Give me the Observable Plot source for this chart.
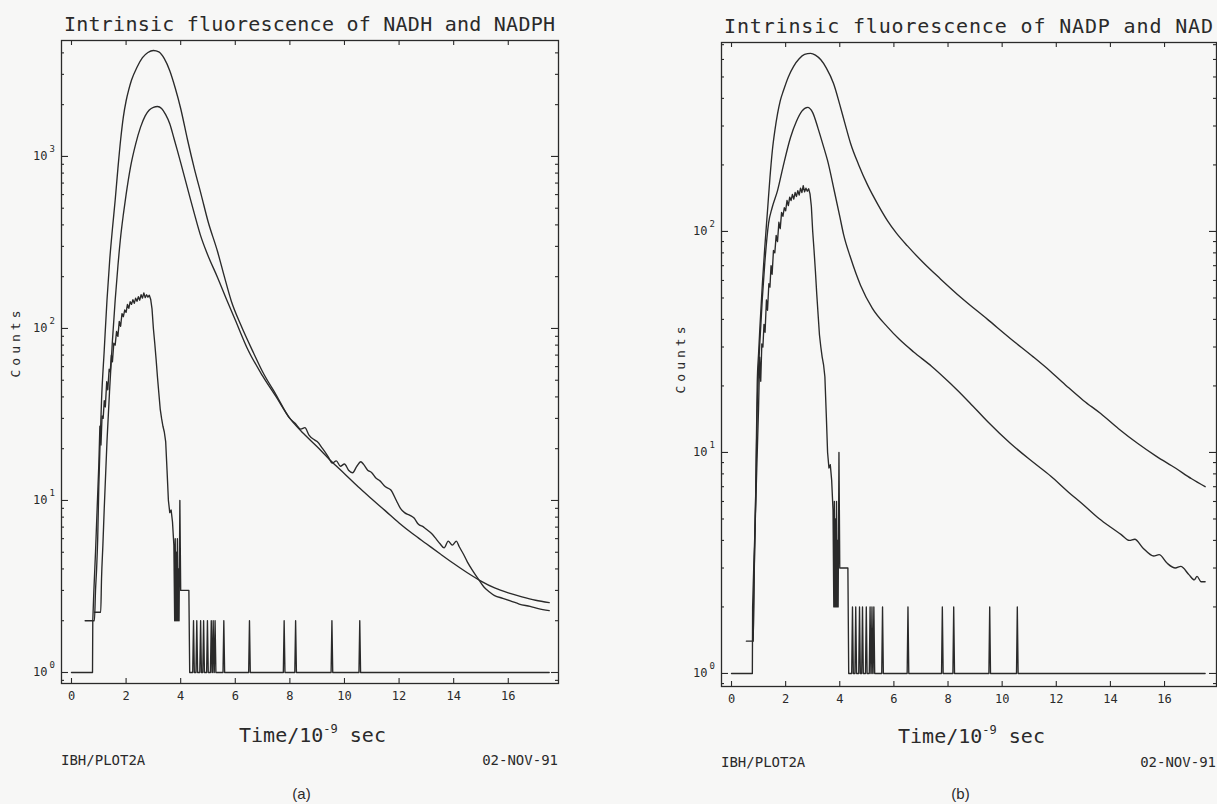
<!DOCTYPE html>
<html><head><meta charset="utf-8">
<script src="https://cdn.jsdelivr.net/npm/d3@7"></script>
<script src="https://cdn.jsdelivr.net/npm/@observablehq/plot@0.6"></script>
<style>
html,body{margin:0;padding:0;background:#f7f7f6;}
#page{position:relative;width:1217px;height:804px;overflow:hidden;}
.panel{position:absolute;top:0;}
#overlay{position:absolute;left:0;top:0;pointer-events:none;}
</style></head><body><div id="page"></div>
<script>
// ---------- data ----------
const xTicks = [0, 2, 4, 6, 8, 10, 12, 14, 16];
const yMajorA = [1, 10, 100, 1000];
const yMajorB = [1, 10, 100];

// instrument response (same lamp profile in both panels)
const irf = [[0,1],[0.77,1],[0.78,2],[0.82,3],[0.88,5],[0.94,9],[1.0,16],[1.04,27],[1.08,21],[1.12,31],[1.16,30],[1.2,38],[1.24,35],[1.29,49],[1.33,44],[1.38,58],[1.42,56],[1.46,70],[1.5,64],[1.55,82],[1.6,80],[1.65,96],[1.7,90],[1.75,110],[1.8,103],[1.85,122],[1.9,117],[1.95,128],[2.0,124],[2.05,138],[2.1,131],[2.15,143],[2.2,138],[2.25,147],[2.3,140],[2.35,150],[2.4,144],[2.45,153],[2.5,146],[2.55,157],[2.6,150],[2.65,161],[2.7,151],[2.75,157],[2.8,152],[2.85,156],[2.9,148],[2.95,130],[3.0,100],[3.05,82],[3.1,66],[3.15,52],[3.2,42],[3.25,34],[3.3,30],[3.35,27],[3.4,25],[3.45,22],[3.5,15],[3.55,10],[3.6,8.5],[3.65,8.8],[3.7,7.5],[3.75,5.5],[3.78,2],[3.8,6],[3.82,2],[3.84,5],[3.86,2],[3.88,6],[3.9,2],[3.92,4],[3.94,2],[3.97,10],[4.0,3],[4.3,3],[4.33,1],[4.44,1],[4.47,2],[4.5,1],[4.56,1],[4.59,2],[4.62,1],[4.7,1],[4.73,2],[4.76,1],[4.81,1],[4.84,2],[4.87,1],[4.95,1],[4.98,2],[5.01,1],[5.09,1],[5.12,2],[5.15,1],[5.16,1],[5.19,2],[5.22,1],[5.23,1],[5.26,2],[5.29,1],[5.55,1],[5.58,2],[5.61,1],[6.49,1],[6.52,2],[6.55,1],[7.76,1],[7.79,2],[7.82,1],[8.18,1],[8.21,2],[8.24,1],[9.51,1],[9.54,2],[9.57,1],[10.53,1],[10.56,2],[10.59,1],[17.5,1]];

// panel (a): NADH / NADPH
const nadhUpper = [[0.5,2],[0.84,2],[0.88,3],[0.92,4],[0.96,6],[1.0,12],[1.05,22],[1.1,38],[1.2,75],[1.3,146],[1.4,250],[1.5,380],[1.6,556],[1.7,850],[1.8,1250],[1.9,1700],[2.0,2100],[2.1,2450],[2.2,2780],[2.4,3300],[2.6,3750],[2.8,4020],[3.0,4130],[3.2,4050],[3.4,3700],[3.6,3150],[3.8,2500],[4.0,1900],[4.25,1250],[4.5,850],[4.75,600],[5.0,420],[5.35,280],[5.6,200],[5.85,145],[6.2,105],[6.67,72],[7.0,56],[7.5,41],[8.0,30],[8.2,28],[8.4,26],[8.55,26.5],[8.7,24],[8.9,22.5],[9.0,22],[9.2,20],[9.4,18],[9.55,16.5],[9.7,17],[9.85,15.8],[10.0,16.3],[10.15,15],[10.3,14.5],[10.45,15.8],[10.6,16.8],[10.7,16.2],[10.85,15],[11.0,14.5],[11.15,13.5],[11.3,13],[11.5,12],[11.7,11.5],[11.9,10],[12.05,9],[12.2,8.5],[12.4,8.2],[12.55,7.9],[12.7,7.3],[12.9,7],[13.0,6.8],[13.2,6.4],[13.35,6],[13.5,5.6],[13.65,5.3],[13.8,5.8],[13.95,5.5],[14.1,5.8],[14.2,5.4],[14.35,4.9],[14.5,4.4],[14.7,3.9],[14.9,3.5],[15.1,3.15],[15.3,2.95],[15.5,2.8],[15.8,2.7],[16.1,2.6],[16.4,2.5],[16.8,2.42],[17.1,2.35],[17.5,2.29]];
const nadhLower = [[0.84,2.24],[1.07,2.24],[1.1,3.5],[1.15,5.5],[1.2,9],[1.3,22],[1.4,45],[1.5,85],[1.6,146],[1.7,230],[1.8,340],[1.9,460],[2.0,600],[2.16,865],[2.35,1180],[2.53,1480],[2.7,1720],[2.85,1860],[3.0,1930],[3.15,1950],[3.3,1900],[3.45,1750],[3.6,1550],[3.75,1280],[3.88,1080],[4.0,920],[4.3,610],[4.5,465],[4.72,350],[4.98,270],[5.35,198],[5.7,145],[6.0,112],[6.45,76],[7.0,53],[7.5,40],[8.0,30],[8.5,24.5],[9.0,20.5],[9.5,17],[10.0,14.3],[10.5,12],[11.0,10.2],[11.5,8.7],[12.0,7.4],[12.5,6.4],[13.0,5.6],[13.5,4.9],[14.0,4.3],[14.5,3.8],[15.0,3.4],[15.5,3.1],[16.0,2.9],[16.5,2.75],[17.0,2.63],[17.5,2.55]];

// panel (b): NADP / NAD
const nadpUpper = [[0.55,1.4],[0.8,1.4],[0.82,2],[0.86,4],[0.89,6.1],[0.95,20.5],[1.0,28],[1.05,37],[1.14,58],[1.23,85],[1.33,124],[1.42,175],[1.51,233],[1.6,285],[1.7,340],[1.8,390],[1.92,434],[2.1,500],[2.3,560],[2.5,605],[2.7,632],[2.92,639],[3.1,628],[3.3,598],[3.5,550],[3.77,467],[4.0,375],[4.2,305],[4.4,250],[4.7,200],[5.03,162],[5.4,133],[5.76,112],[6.1,98],[6.5,86],[7.1,72],[7.72,61],[8.5,50],[9.46,40],[10.3,32.8],[11.16,27],[11.8,23.2],[12.4,19.9],[13.0,17.2],[13.64,15],[14.3,12.8],[15.0,11],[15.7,9.6],[16.4,8.5],[17.0,7.6],[17.5,7.0]];
const nadpLower = [[0.8,1.4],[0.84,3],[0.9,7],[0.95,16],[1.0,24],[1.05,32],[1.14,50],[1.23,72],[1.37,109],[1.5,128],[1.7,153],[1.9,195],[2.18,266],[2.4,315],[2.6,350],[2.81,364],[3.0,345],[3.2,292],[3.4,242],[3.55,209],[3.8,152],[4.0,117],[4.14,97],[4.4,76],[4.77,57],[5.2,45],[5.76,37],[6.2,32.5],[6.73,28.5],[7.4,24.5],[8.09,20.5],[8.8,16.8],[9.46,13.8],[10.3,11],[11.16,9],[11.8,7.8],[12.4,6.7],[13.0,5.8],[13.6,5.0],[14.0,4.6],[14.4,4.25],[14.7,4.0],[14.9,4.05],[15.2,3.7],[15.6,3.4],[15.8,3.45],[16.1,3.15],[16.4,3.0],[16.6,3.05],[16.9,2.8],[17.1,2.65],[17.2,2.75],[17.35,2.6],[17.5,2.6]];

const titles = ["Intrinsic fluorescence of NADH and NADPH", "Intrinsic fluorescence of NADP and NAD"];
const footLeft = "IBH/PLOT2A", footRight = "02-NOV-91";
const panelTags = ["(a)", "(b)"];

// ---------- drawing ----------
const INK = "#2a2a2a";
function minorTicks(domain) {
  const out = [];
  for (let k = Math.floor(Math.log10(domain[0])); k <= Math.ceil(Math.log10(domain[1])); k++)
    for (let m = 2; m <= 9; m++) { const v = m * 10 ** k; if (v > domain[0] && v < domain[1]) out.push(v); }
  return out;
}
function panel(o) {
  const innerW = o.width - o.ml - o.mr, innerH = o.height - o.mt - o.mb;
  const minor = minorTicks(o.yDomain);
  const tick = {stroke: INK, strokeWidth: 1.1};
  return Plot.plot({
    width: o.width, height: o.height,
    marginLeft: o.ml, marginRight: o.mr, marginTop: o.mt, marginBottom: o.mb,
    style: {background: "transparent", fontFamily: "DejaVu Sans Mono", color: INK, overflow: "visible"},
    x: {domain: o.xDomain, axis: null},
    y: {type: "log", domain: o.yDomain, axis: null},
    marks: [
      Plot.frame({stroke: INK, strokeWidth: 1.3}),
      Plot.tickX(xTicks, {x: d => d, insetTop: innerH - 5, ...tick}),
      Plot.tickX(xTicks, {x: d => d, insetBottom: innerH - 5, ...tick}),
      Plot.tickY(o.yMajor, {y: d => d, insetRight: innerW - 7, ...tick}),
      Plot.tickY(o.yMajor, {y: d => d, insetLeft: innerW - 7, ...tick}),
      Plot.tickY(minor, {y: d => d, insetRight: innerW - 3, ...tick}),
      Plot.tickY(minor, {y: d => d, insetLeft: innerW - 3, ...tick}),
      Plot.text(xTicks, {x: d => d, frameAnchor: "bottom", dy: 16, text: d => String(d), fontSize: 12, fill: INK}),
      Plot.text(o.yMajor, {y: d => d, frameAnchor: "left", dx: -14, textAnchor: "end", text: () => "10", fontSize: 12, fill: INK}),
      Plot.text(o.yMajor, {y: d => d, frameAnchor: "left", dx: -12, dy: -7, textAnchor: "start", text: d => String(Math.round(Math.log10(d))), fontSize: 9, fill: INK}),
      Plot.line(o.irf, {x: d => d[0], y: d => d[1], stroke: INK, strokeWidth: 1.35, strokeLinejoin: "round"}),
      ...o.series.map(s => Plot.line(s, {x: d => d[0], y: d => d[1], stroke: INK, strokeWidth: 1.35, curve: "monotone-x"}))
    ]
  });
}

const page = document.getElementById("page");
const left = panel({width: 600, height: 720, ml: 61, mr: 42, mt: 40, mb: 37,
  xDomain: [-0.366, 17.84], yDomain: [0.863, 4720], yMajor: yMajorA,
  irf, series: [nadhLower, nadhUpper]});
const right = panel({width: 617, height: 720, ml: 121, mr: 1, mt: 42, mb: 34,
  xDomain: [-0.37, 17.92], yDomain: [0.873, 716], yMajor: yMajorB,
  irf, series: [nadpLower, nadpUpper]});
const wl = document.createElement("div"); wl.className = "panel"; wl.style.left = "0px"; wl.appendChild(left);
const wr = document.createElement("div"); wr.className = "panel"; wr.style.left = "600px"; wr.appendChild(right);
page.appendChild(wl); page.appendChild(wr);

// text annotations
const svg = d3.select(page).append("svg").attr("id", "overlay").attr("width", 1217).attr("height", 804)
  .style("font-family", "'DejaVu Sans Mono', monospace").style("fill", INK);
const frames = [{l: 61, r: 558, titleY: 31, timeY: 742, footY: 765, countsX: 20, countsY: 342},
                {l: 721, r: 1216, titleY: 33, timeY: 743, footY: 767, countsX: 685, countsY: 358}];
frames.forEach((f, i) => {
  const cx = (f.l + f.r) / 2;
  svg.append("text").attr("x", cx).attr("y", f.titleY).attr("text-anchor", "middle")
    .attr("font-size", 20).attr("textLength", f.r - f.l - 6).attr("lengthAdjust", "spacing").text(titles[i]);
  svg.append("text").attr("transform", `translate(${f.countsX},${f.countsY}) rotate(-90)`)
    .attr("text-anchor", "middle").attr("font-size", 13).style("letter-spacing", "4px").text("Counts");
  const t = svg.append("text").attr("x", cx + 3).attr("y", f.timeY).attr("text-anchor", "middle").attr("font-size", 20);
  t.append("tspan").text("Time/10");
  t.append("tspan").attr("dy", -9).attr("font-size", 12).text("-9");
  t.append("tspan").attr("dy", 9).text(" sec");
  svg.append("text").attr("x", f.l).attr("y", f.footY).attr("font-size", 14).text(footLeft);
  svg.append("text").attr("x", f.r).attr("y", f.footY).attr("text-anchor", "end").attr("font-size", 14).text(footRight);
  svg.append("text").attr("x", cx - 8).attr("y", 799).attr("text-anchor", "middle").attr("font-size", 15)
    .style("font-family", "'Liberation Sans', Arial, sans-serif").text(panelTags[i]);
});
</script></body></html>
